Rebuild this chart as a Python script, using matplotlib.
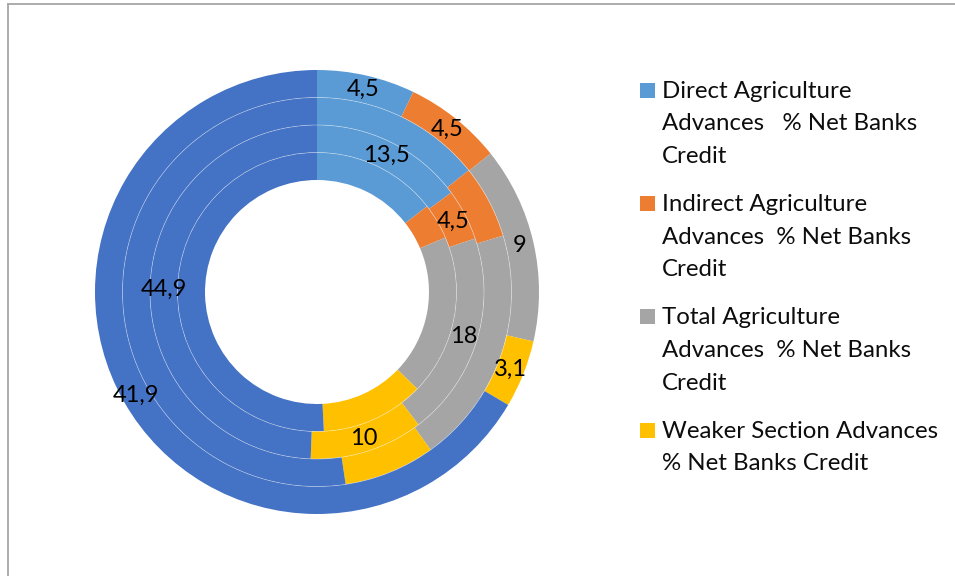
import numpy as np
import matplotlib

matplotlib.use("Agg")
import matplotlib.pyplot as plt
from matplotlib.lines import Line2D
from matplotlib.patches import Rectangle, Circle

plt.rcParams["font.family"] = ["Lato", "DejaVu Sans"]

# ---------------------------------------------------------------------------
# Data (rings listed from the innermost to the outermost)
# ---------------------------------------------------------------------------
legend_labels = [
    "Direct Agriculture\nAdvances   % Net Banks\nCredit",
    "Indirect Agriculture\nAdvances  % Net Banks\nCredit",
    "Total Agriculture\nAdvances  % Net Banks\nCredit",
    "Weaker Section Advances\n% Net Banks Credit",
]
colors = ["#5B9BD5", "#ED7D31", "#A5A5A5", "#FFC000", "#4472C4"]

ring1 = [12.9, 3.7, 16.6, 10.7, 45.3]   # no labels shown, read from angles
ring2 = [13.5, 4.5, 18.0, 10.0, 44.9]
ring3 = [12.4, 5.3, 17.2, 6.6, 45.6]    # no labels shown, read from angles
ring4 = [4.5, 4.5, 9.0, 3.1, 41.9]
rings = [ring1, ring2, ring3, ring4]
show_labels = [False, True, False, True]

# ---------------------------------------------------------------------------
# Figure
# ---------------------------------------------------------------------------
W, H = 955, 576
fig = plt.figure(figsize=(W / 100, H / 100), dpi=100)

CX, CY, R = 317, 292, 222          # pie centre / radius in pixels
ax = fig.add_axes([(CX - R) / W, (H - CY - R) / H, 2 * R / W, 2 * R / H])

R_IN = 112 / R
ring_w = (1 - R_IN) / len(rings)

for i, vals in enumerate(rings):
    r_out = R_IN + (i + 1) * ring_w
    wedges, _ = ax.pie(vals, colors=colors, radius=r_out, startangle=90,
                       counterclock=False,
                       wedgeprops=dict(width=ring_w, linewidth=0))
    if not show_labels[i]:
        continue
    r_mid = r_out - ring_w / 2
    for w, v in zip(wedges, vals):
        a = np.deg2rad((w.theta1 + w.theta2) / 2)
        ax.text(r_mid * np.cos(a), r_mid * np.sin(a),
                f"{v:g}".replace(".", ","),
                ha="center", va="center", fontsize=17, color="black")

# faint white lines between the rings
for k in range(1, len(rings)):
    ax.add_patch(Circle((0, 0), R_IN + k * ring_w, fill=False,
                        ec="white", lw=0.5, alpha=0.45))

ax.set_xlim(-1, 1)
ax.set_ylim(-1, 1)
ax.set_aspect("equal")
ax.axis("off")

# ---------------------------------------------------------------------------
# Legend (drawn by hand to keep the line layout)
# ---------------------------------------------------------------------------
LINE_H = 32.6
y_base = 97.7
for lab, col in zip(legend_labels, colors):
    fig.add_artist(Rectangle((640 / W, 1 - y_base / H), 15 / W, 15 / H,
                             transform=fig.transFigure, color=col, lw=0))
    lines = lab.split("\n")
    for j, line in enumerate(lines):
        fig.text(662 / W, 1 - (y_base + j * LINE_H) / H, line,
                 ha="left", va="baseline", fontsize=17.3, color="#0d0d0d")
    y_base += len(lines) * LINE_H + 15.5

# chart area border (only top and left visible)
bc = "#a6a6a6"
fig.add_artist(Line2D([7.5 / W, 7.5 / W], [0, 1 - 3.5 / H],
                      transform=fig.transFigure, color=bc, lw=1.3))
fig.add_artist(Line2D([7.5 / W, 1], [1 - 3.5 / H, 1 - 3.5 / H],
                      transform=fig.transFigure, color=bc, lw=1.3))

fig.savefig("out.png", dpi=100)
